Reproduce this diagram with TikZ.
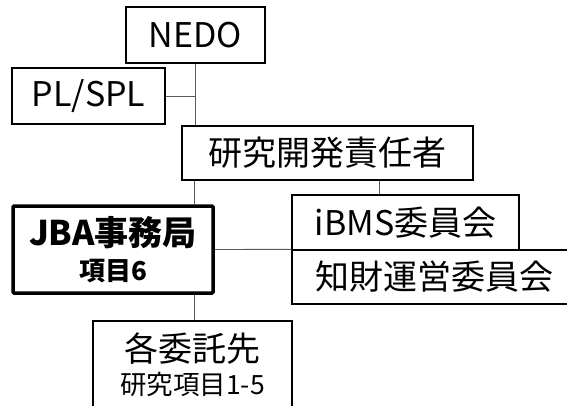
\documentclass[tikz,border=0pt]{standalone}
\usepackage{fontspec}
\setmainfont{Noto Sans CJK JP}
\usetikzlibrary{calc}
\newcommand\mainsize{\fontsize{34pt}{40pt}\selectfont}
\newcommand\subsize{\fontsize{26.5pt}{34pt}\selectfont}
\tikzset{
  box/.style={
    draw,
    line width=1.3pt,
    inner sep=0pt,
    align=center,
    font=\mainsize
  },
  link/.style={
    draw=black!65,
    line width=0.9pt
  }
}

\begin{document}
\begin{tikzpicture}[x=1pt,y=-1pt]
    \useasboundingbox (0,0) rectangle (567,405);
    \clip (0,0) rectangle (567,405);

    % 上段
    \node[box,minimum width=139pt,minimum height=56pt] (NEDO) at (195.5,35) {NEDO};
    \node[box,minimum width=153pt,minimum height=56pt] (PLSPL) at (88.5,96) {PL/SPL};
    \node[box,minimum width=291pt,minimum height=54pt] (Dev) at (327.5,153) {研究開発責任者};

    % 委員会
    \node[box,minimum width=227pt,minimum height=55pt] (iBMS) at (405.5,222.5) {iBMS委員会};
    \node[box,minimum width=284pt,minimum height=54pt] (IP) at (434,277) {知財運営委員会};

    % 事務局と委託先
    \node[box,line width=3.5pt,rounded corners=1pt,minimum width=200pt,minimum height=87pt] (JBA) at (113,249.5)
        {\bfseries JBA事務局\\[-5pt]{\bfseries\fontsize{26pt}{30pt}\selectfont 項目6}};
    \node[box,minimum width=199pt,minimum height=88pt] (Itaku) at (192.5,365)
        {各委託先\\[-7pt]{\subsize 研究項目1-5}};

    \coordinate (trunk) at (194,0);
    \coordinate (tap) at (379,0);

    \draw[link] (NEDO.south) -- (NEDO.south |- Dev.north);
    \draw[link] (PLSPL.east) -- (PLSPL.east -| NEDO.south);
    \draw[link] (trunk |- Dev.south) -- (trunk |- JBA.north);
    \draw[link] (trunk |- JBA.south) -- (trunk |- Itaku.north);
    \draw[link] (tap |- Dev.south) -- (tap |- iBMS.north);
    \draw[link] (JBA.east) -- (IP.north west);
\end{tikzpicture}
\end{document}
